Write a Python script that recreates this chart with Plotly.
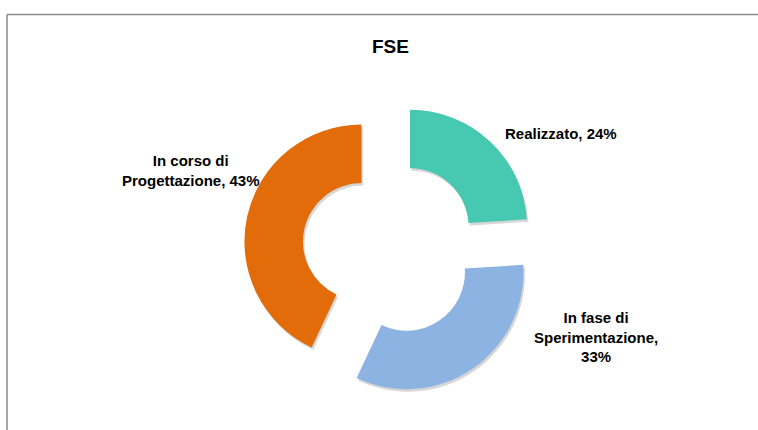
import plotly.graph_objects as go

# Stato di avanzamento FSE
categories = ["Realizzato", "In fase di<br>Sperimentazione,", "In corso di<br>Progettazione,"]
label_names = ["Realizzato,", "In fase di<br>Sperimentazione,<br>", "In corso di<br>Progettazione,"]
values = [24, 33, 43]
colors = ["#47C8B0", "#8DB3E2", "#E36C0A"]

W, H = 758, 430
cx, cy, half = 390.0, 248.0, 146.25   # pie box centre and half-size (px)
PULL = 0.25
HOLE = 0.5


def dom(dx=0.0, dy=0.0):
    return dict(
        x=[(cx - half + dx) / W, (cx + half + dx) / W],
        y=[1 - (cy + half + dy) / H, 1 - (cy - half + dy) / H],
    )


common = dict(
    values=values,
    labels=categories,
    sort=False,
    direction="clockwise",
    rotation=0,
    hole=HOLE,
    pull=[PULL] * len(values),
    textinfo="none",
    hoverinfo="skip",
    showlegend=False,
)

fig = go.Figure()
# soft drop shadow under the ring
fig.add_trace(go.Pie(
    **common,
    domain=dom(1.5, 2.5),
    marker=dict(colors=["rgba(0,0,0,0.16)"] * len(values), line=dict(width=0)),
))
fig.add_trace(go.Pie(
    **common,
    domain=dom(),
    marker=dict(colors=colors, line=dict(width=0)),
))

font = dict(family="Liberation Sans, Arial, sans-serif", size=15, color="#000000", weight=700)

# data labels: name + share
total = sum(values)
label_pos = [(561, 133), (596, 337), (191, 170)]
annotations = []
for name, v, (px, py) in zip(label_names, values, label_pos):
    sep = "" if name.endswith("<br>") else " "
    annotations.append(dict(
        text=f"{name}{sep}{round(100 * v / total)}%",
        x=px / W, y=1 - py / H, xref="paper", yref="paper",
        xanchor="center", yanchor="middle", align="center",
        showarrow=False, font=font,
    ))

annotations.append(dict(
    text="FSE", x=390 / W, y=1 - 46 / H, xref="paper", yref="paper",
    xanchor="center", yanchor="middle", showarrow=False,
    font=dict(family="Liberation Sans, Arial, sans-serif", size=19, color="#000000", weight=700),
))

# chart-area frame (top and left edges visible)
frame = dict(color="#8C8C8C", width=1.5)
shapes = [
    dict(type="line", xref="paper", yref="paper", x0=7 / W, x1=1, y0=1 - 14.5 / H, y1=1 - 14.5 / H, line=frame),
    dict(type="line", xref="paper", yref="paper", x0=7 / W, x1=7 / W, y0=1 - 14.5 / H, y1=0, line=frame),
]

fig.update_layout(
    width=W, height=H,
    margin=dict(l=0, r=0, t=0, b=0),
    paper_bgcolor="white", plot_bgcolor="white",
    annotations=annotations, shapes=shapes,
)

fig.write_html("out.html")
